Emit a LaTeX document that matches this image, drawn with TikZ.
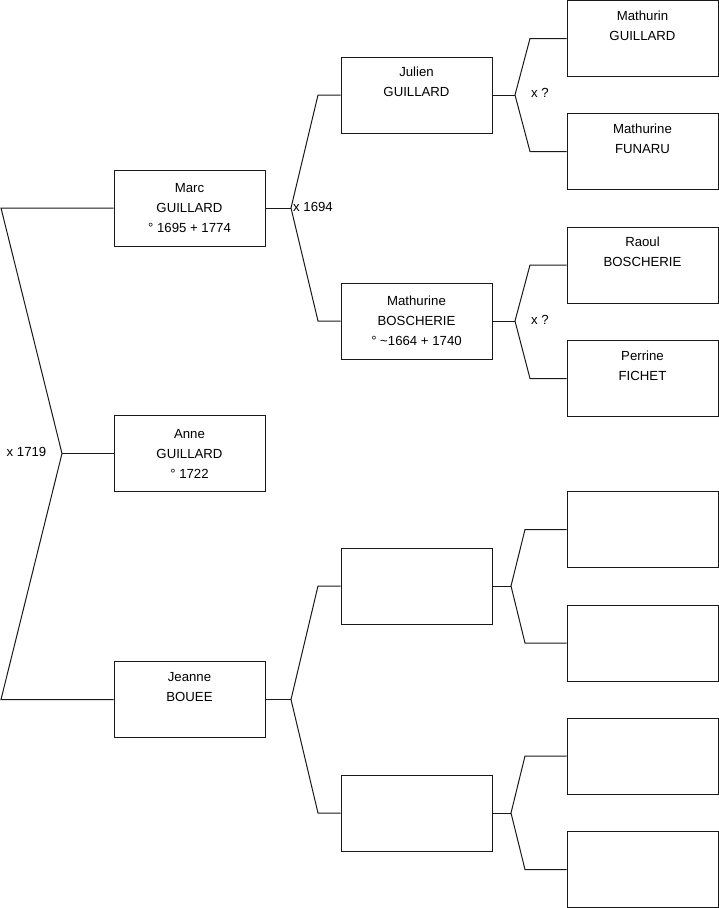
\documentclass[tikz,border=0pt]{standalone}
\usepackage{fontspec}
\setmainfont{Liberation Sans}
\begin{document}
\begin{tikzpicture}[x=1pt,y=-1pt,
  person/.style={draw=black!90, line width=1pt, rectangle, minimum width=151pt, minimum height=76pt,
    inner sep=0pt, align=center, font=\fontsize{13.2}{20}\selectfont},
  link/.style={draw=black!90, line width=1pt},
  marr/.style={anchor=west, inner sep=0pt, font=\fontsize{13.2}{15}\selectfont}]
\useasboundingbox (0,0) rectangle (719,908);
% generation 1
\node[person] (marc) at (189.5,208) {Marc\\GUILLARD\\° 1695 + 1774};
\node[person] (anne) at (189.5,453.5) {Anne\\GUILLARD\\° 1722};
\node[person] (jeanne) at (189.5,699.5) {Jeanne\\BOUEE\\\strut};
% generation 2
\node[person] (julien) at (416.5,95) {Julien\\GUILLARD\\\strut};
\node[person] (mathb) at (416.5,321) {Mathurine\\BOSCHERIE\\° \textasciitilde1664 + 1740};
\node[person] (e1) at (416.5,586) {};
\node[person] (e2) at (416.5,813) {};
% generation 3
\node[person] (mathurin) at (642.5,38.5) {Mathurin\\GUILLARD\\\strut};
\node[person] (mathf) at (642.5,151.5) {Mathurine\\FUNARU\\\strut};
\node[person] (raoul) at (642.5,265) {Raoul\\BOSCHERIE\\\strut};
\node[person] (perrine) at (642.5,378.5) {Perrine\\FICHET\\\strut};
\node[person] (e3) at (642.5,529.5) {};
\node[person] (e4) at (642.5,643) {};
\node[person] (e5) at (642.5,756) {};
\node[person] (e6) at (642.5,869.5) {};
% fork coordinates
\coordinate (f0) at (62,453.5);
\coordinate (f0a) at (1,208);
\coordinate (f0b) at (1,699.5);
\coordinate (f1) at (291,208);
\coordinate (f1a) at (318,95);
\coordinate (f1b) at (318,321);
\coordinate (f2) at (291,699.5);
\coordinate (f2a) at (318,586);
\coordinate (f2b) at (318,813);
\coordinate (f3) at (515,95);
\coordinate (f3a) at (530,38.5);
\coordinate (f3b) at (530,151.5);
\coordinate (f4) at (515,321);
\coordinate (f4a) at (530,265);
\coordinate (f4b) at (530,378.5);
\coordinate (f5) at (511,586);
\coordinate (f5a) at (525,529.5);
\coordinate (f5b) at (525,643);
\coordinate (f6) at (511,813);
\coordinate (f6a) at (525,756);
\coordinate (f6b) at (525,869.5);
% connectors
\draw[link] (marc.west) -- (f0a) -- (f0) -- (f0b) -- (jeanne.west);
\draw[link] (f0) -- (anne.west);
\draw[link] (marc.east) -- (f1);
\draw[link] (julien.west) -- (f1a) -- (f1) -- (f1b) -- (mathb.west);
\draw[link] (jeanne.east) -- (f2);
\draw[link] (e1.west) -- (f2a) -- (f2) -- (f2b) -- (e2.west);
\draw[link] (julien.east) -- (f3);
\draw[link] (mathurin.west) -- (f3a) -- (f3) -- (f3b) -- (mathf.west);
\draw[link] (mathb.east) -- (f4);
\draw[link] (raoul.west) -- (f4a) -- (f4) -- (f4b) -- (perrine.west);
\draw[link] (e1.east) -- (f5);
\draw[link] (e3.west) -- (f5a) -- (f5) -- (f5b) -- (e4.west);
\draw[link] (e2.east) -- (f6);
\draw[link] (e5.west) -- (f6a) -- (f6) -- (f6b) -- (e6.west);
% marriage labels
\node[marr] (m0) at (6.5,452) {x 1719};
\node[marr] (m1) at (293,207) {x 1694};
\node[marr] (m2) at (531,93) {x ?};
\node[marr] (m3) at (531,319.5) {x ?};
\end{tikzpicture}
\end{document}
